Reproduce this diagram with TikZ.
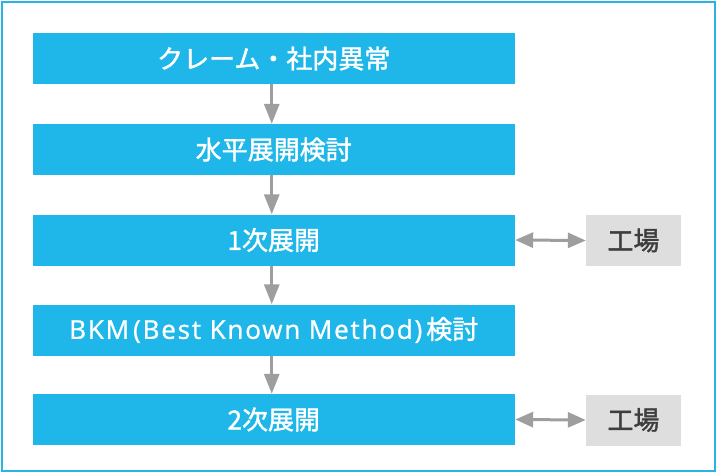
\documentclass[tikz,border=0pt]{standalone}
\usepackage{fontspec}
\newfontfamily\jp{Noto Sans CJK JP}[FakeBold=1.5]
\newfontfamily\lat{Open Sans}[FakeBold=1, LetterSpace=7]
\usetikzlibrary{arrows.meta}
\definecolor{mainblue}{HTML}{1FB7EA}
\definecolor{frameblue}{HTML}{2AB4E6}
\definecolor{boxgray}{HTML}{DEDEDE}
\definecolor{txtgray}{HTML}{3E3E3E}
\definecolor{arrgray}{HTML}{9E9E9E}
\tikzset{
  stepbox/.style={fill=mainblue, draw=none, minimum width=482.5pt, minimum height=51pt,
    inner sep=0pt, text=white, font=\jp\fontsize{26}{30}\selectfont},
  sidebox/.style={fill=boxgray, draw=none, minimum width=95pt, minimum height=51pt,
    inner sep=0pt, text=txtgray, font=\jp\fontsize{26}{30}\selectfont},
  flow/.style={draw=arrgray, line width=3pt, -{Triangle[length=20pt,width=15pt]}},
  both/.style={draw=arrgray, line width=3pt, {Triangle[length=18pt,width=15pt]}-{Triangle[length=18pt,width=15pt]}}
}
\begin{document}
\begin{tikzpicture}[x=1pt,y=-1pt]
\useasboundingbox (0,0) rectangle (718,474);
\draw[frameblue, line width=2pt] (2,2) rectangle (715,471);
\node[stepbox] (s1) at (273.75,58.5) {クレーム・社内異常};
\node[stepbox] (s2) at (273.75,149.5) {水平展開検討};
\node[stepbox] (s3) at (273.75,240) {1次展開};
\node[stepbox] (s4) at (273.75,330) {{\lat\fontsize{26}{30}\selectfont BKM\kern4pt(Best Known Method)\kern4pt}検討};
\node[stepbox] (s5) at (273.75,419.5) {2次展開};
\node[sidebox] (f1) at (633.5,240.5) {工場};
\node[sidebox] (f2) at (633.5,420) {工場};
\foreach \a/\b in {s1/s2,s2/s3,s3/s4,s4/s5}{
  \draw[flow] ([xshift=-2pt]\a.south) -- ([xshift=-2pt]\b.north);
}
\draw[both] (s3.east) -- (f1.west);
\draw[both] (s5.east) -- (f2.west);
\end{tikzpicture}
\end{document}
